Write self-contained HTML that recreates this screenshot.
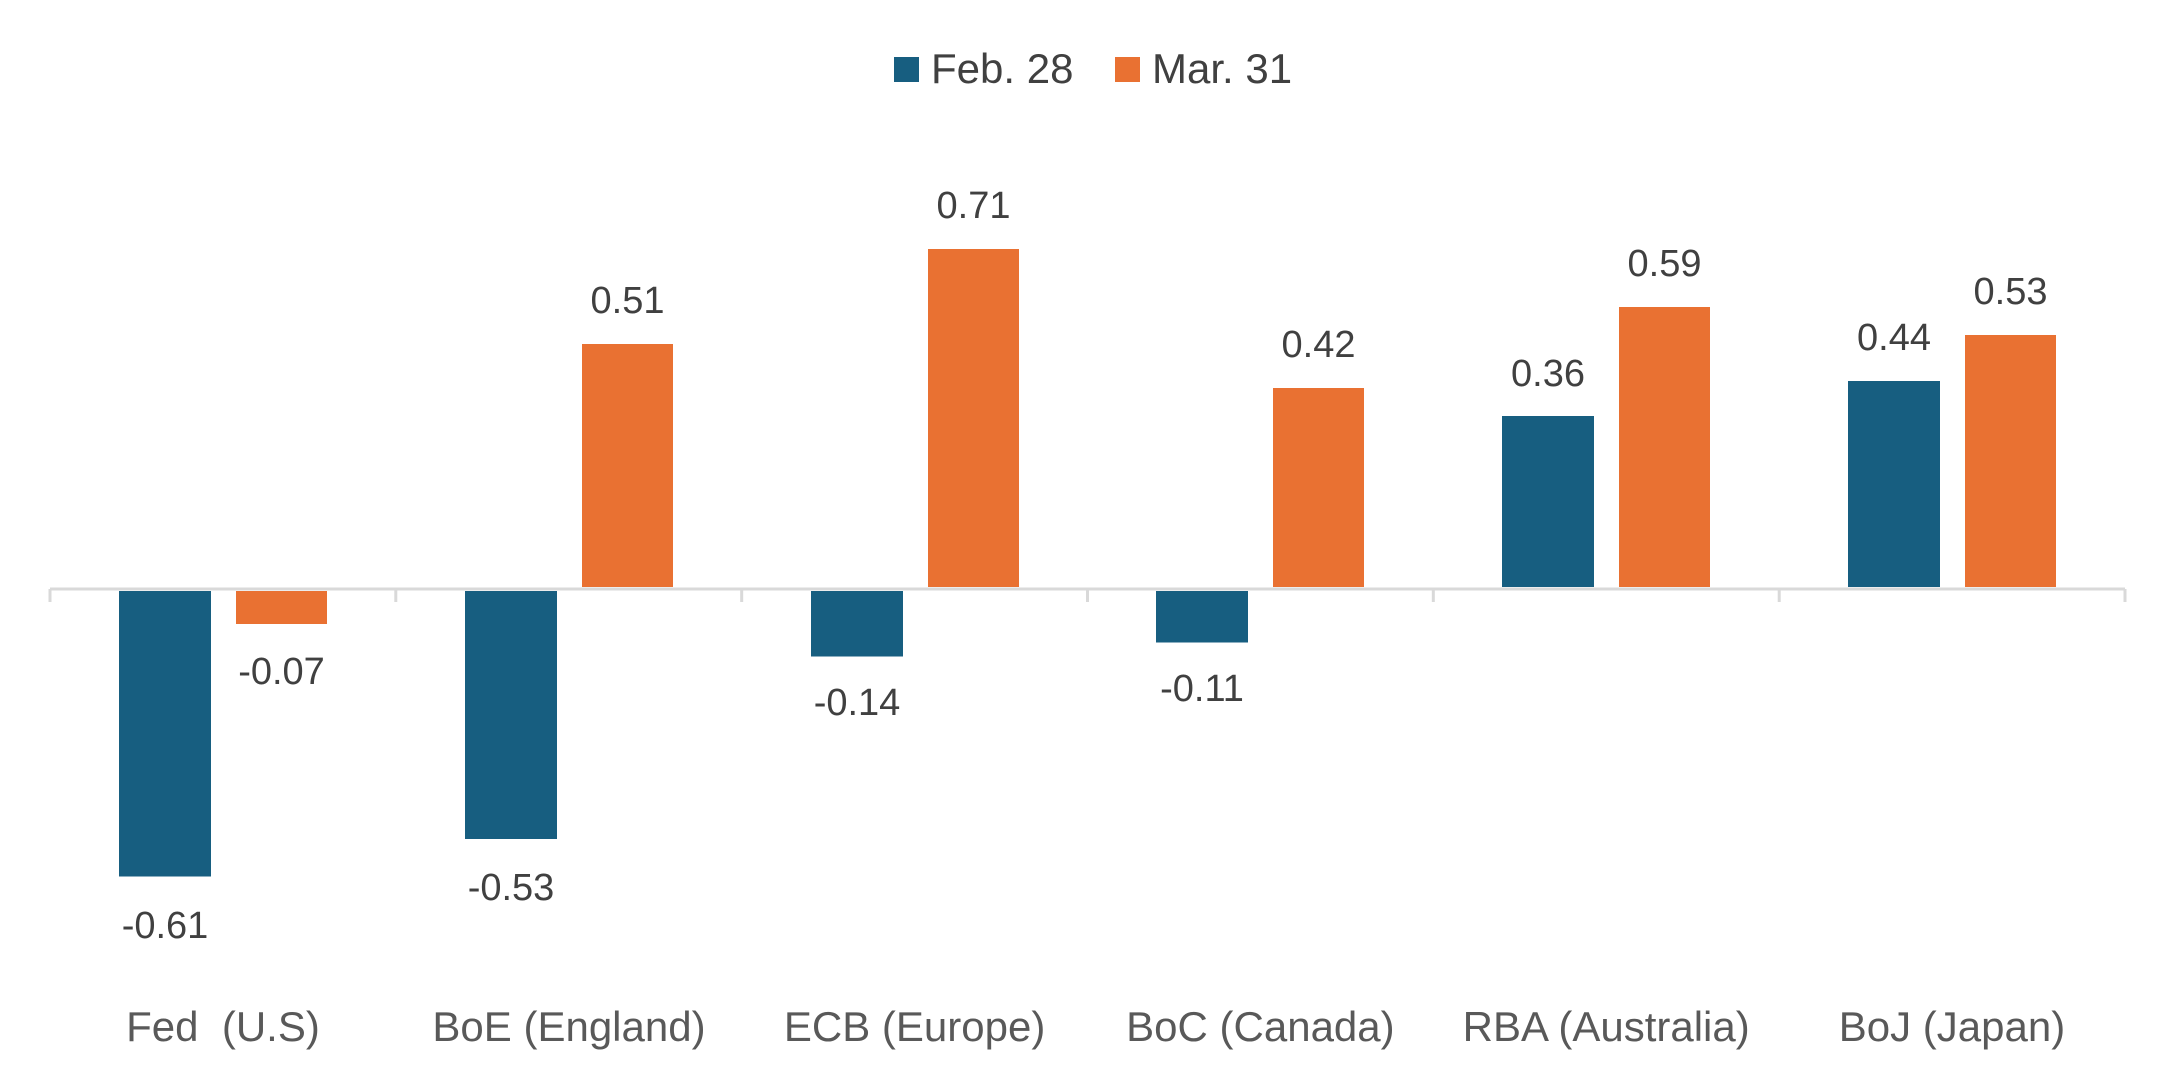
<!DOCTYPE html>
<html><head><meta charset="utf-8"><style>
html,body{margin:0;padding:0;background:#fff;}
svg{display:block;font-family:"Liberation Sans",Arial,sans-serif;}
</style></head><body>
<svg width="2175" height="1082" viewBox="0 0 2175 1082" xmlns="http://www.w3.org/2000/svg">
<rect width="2175" height="1082" fill="#fff"/>
<!-- legend -->
<rect x="894" y="57" width="25" height="25" fill="#175E80"/>
<text x="931" y="83" font-size="42" fill="#404040">Feb. 28</text>
<rect x="1115" y="57" width="25" height="25" fill="#E97132"/>
<text x="1152" y="83" font-size="42" fill="#404040">Mar. 31</text>
<!-- axis -->
<line x1="50" y1="589" x2="2125" y2="589" stroke="#d9d9d9" stroke-width="3"/>
<g stroke="#d9d9d9" stroke-width="3">
<line x1="50" y1="589" x2="50" y2="602"/>
<line x1="395.8" y1="589" x2="395.8" y2="602"/>
<line x1="741.7" y1="589" x2="741.7" y2="602"/>
<line x1="1087.5" y1="589" x2="1087.5" y2="602"/>
<line x1="1433.3" y1="589" x2="1433.3" y2="602"/>
<line x1="1779.2" y1="589" x2="1779.2" y2="602"/>
<line x1="2125" y1="589" x2="2125" y2="602"/>
</g>
<g font-size="38" fill="#404040" text-anchor="middle">
<rect x="119" y="591" width="92" height="285.5" fill="#175E80"/>
<text x="165" y="938">-0.61</text>
<rect x="236" y="591" width="91" height="33" fill="#E97132"/>
<text x="281.5" y="684">-0.07</text>
<rect x="465" y="591" width="92" height="248" fill="#175E80"/>
<text x="511" y="900">-0.53</text>
<rect x="582" y="344" width="91" height="243" fill="#E97132"/>
<text x="627.5" y="313">0.51</text>
<rect x="811" y="591" width="92" height="65.5" fill="#175E80"/>
<text x="857" y="715">-0.14</text>
<rect x="928" y="249" width="91" height="338" fill="#E97132"/>
<text x="973.5" y="218">0.71</text>
<rect x="1156" y="591" width="92" height="51.5" fill="#175E80"/>
<text x="1202" y="701">-0.11</text>
<rect x="1273" y="388" width="91" height="199" fill="#E97132"/>
<text x="1318.5" y="357">0.42</text>
<rect x="1502" y="416" width="92" height="171" fill="#175E80"/>
<text x="1548" y="386">0.36</text>
<rect x="1619" y="307" width="91" height="280" fill="#E97132"/>
<text x="1664.5" y="276">0.59</text>
<rect x="1848" y="381" width="92" height="206" fill="#175E80"/>
<text x="1894" y="350">0.44</text>
<rect x="1965" y="335" width="91" height="252" fill="#E97132"/>
<text x="2010.5" y="304">0.53</text>
</g>
<g font-size="42" fill="#595959" text-anchor="middle">
<text x="223" y="1041" xml:space="preserve">Fed  (U.S)</text>
<text x="569" y="1041">BoE (England)</text>
<text x="914.6" y="1041">ECB (Europe)</text>
<text x="1260.4" y="1041">BoC (Canada)</text>
<text x="1606.2" y="1041">RBA (Australia)</text>
<text x="1952" y="1041">BoJ (Japan)</text>
</g>
</svg>
</body></html>
